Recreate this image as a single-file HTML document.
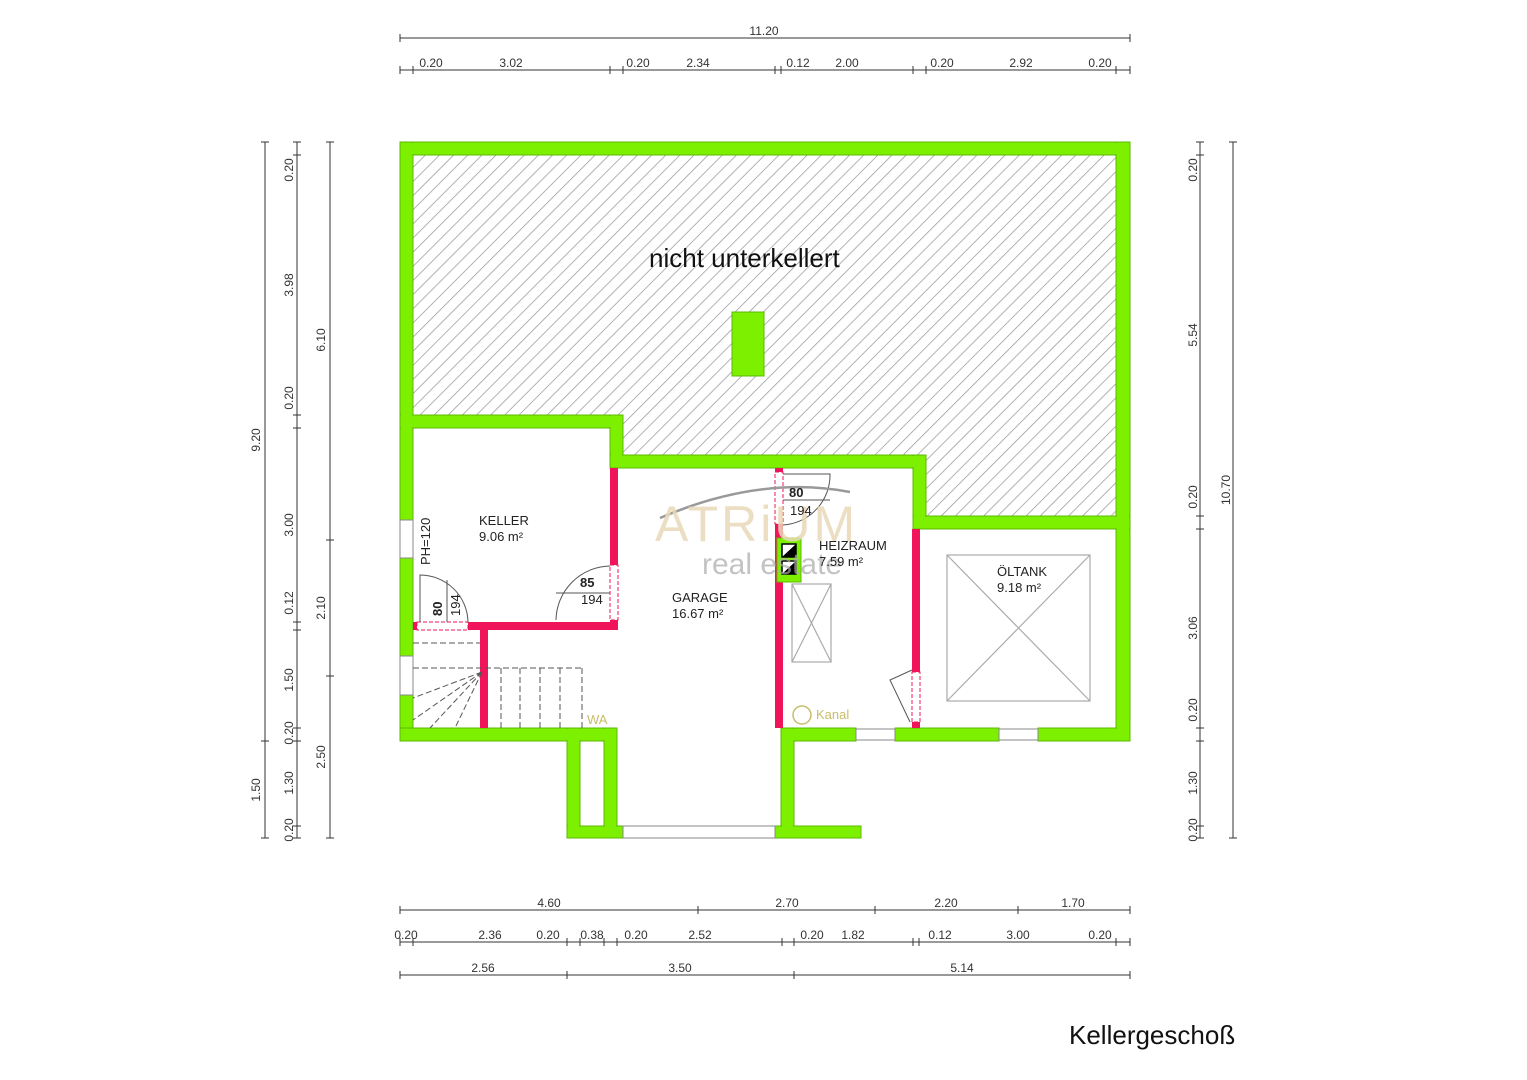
<!DOCTYPE html>
<html><head><meta charset="utf-8"><style>
html,body{margin:0;padding:0;background:#fff;}
svg{display:block;}
text{font-family:"Liberation Sans",sans-serif;}
</style></head><body>
<svg width="1527" height="1080" viewBox="0 0 1527 1080" xmlns="http://www.w3.org/2000/svg">
<defs>
<pattern id="h" patternUnits="userSpaceOnUse" width="10" height="10" patternTransform="rotate(45)">
<line x1="0" y1="0" x2="0" y2="10" stroke="#999" stroke-width="1.5"/>
</pattern>
</defs>
<rect width="1527" height="1080" fill="#fff"/>
<polygon points="413,155 1116,155 1116,516 926,516 926,455 623,455 623,415 413,415" fill="url(#h)"/>

<g fill="#7df000" stroke="#5cb800" stroke-width="1">
<rect x="400" y="142" width="730" height="13"/>
<rect x="400" y="142" width="13" height="378"/>
<rect x="400" y="558" width="13" height="98"/>
<rect x="400" y="695" width="13" height="46"/>
<rect x="1116" y="142" width="14" height="599"/>
<rect x="400" y="415" width="223" height="13"/>
<rect x="610" y="415" width="13" height="53"/>
<rect x="610" y="455" width="316" height="13"/>
<rect x="913" y="455" width="13" height="74"/>
<rect x="913" y="516" width="217" height="13"/>
<rect x="400" y="728" width="217" height="13"/>
<rect x="567" y="728" width="13" height="110"/>
<rect x="604" y="728" width="13" height="110"/>
<rect x="567" y="826" width="56" height="12"/>
<rect x="781" y="728" width="75" height="13"/>
<rect x="781" y="728" width="13" height="110"/>
<rect x="775" y="826" width="86" height="12"/>
<rect x="895" y="728" width="104" height="13"/>
<rect x="1038" y="728" width="92" height="13"/>
<rect x="732" y="312" width="32" height="64"/>
</g>
<g fill="#7df000">
<rect x="401" y="143" width="728" height="11"/>
<rect x="401" y="143" width="11" height="376"/>
<rect x="1117" y="143" width="12" height="597"/>
<rect x="401" y="416" width="221" height="11"/>
<rect x="611" y="416" width="11" height="51"/>
<rect x="611" y="456" width="314" height="11"/>
<rect x="914" y="456" width="11" height="72"/>
<rect x="914" y="517" width="215" height="11"/>
<rect x="401" y="729" width="215" height="11"/>
<rect x="568" y="729" width="11" height="108"/>
<rect x="605" y="729" width="11" height="108"/>
<rect x="782" y="729" width="11" height="108"/>
<rect x="782" y="729" width="73" height="11"/>
</g>
<g fill="#fff" stroke="#888" stroke-width="1">
<rect x="400" y="520" width="13" height="38"/>
<rect x="400" y="656" width="13" height="39"/>
<rect x="856" y="729" width="39" height="11"/>
<rect x="999" y="729" width="39" height="11"/>
<rect x="623" y="826" width="152" height="12"/>
</g>

<g fill="#f0145a">
<rect x="610" y="468" width="8" height="162"/>
<rect x="413" y="622" width="205" height="8"/>
<rect x="480" y="630" width="8" height="98"/>
<rect x="775" y="468" width="8" height="260"/>
<rect x="912" y="529" width="8" height="199"/>
</g>
<g fill="#fff" stroke="#f0145a" stroke-width="1" stroke-dasharray="4,2">
<rect x="417" y="622" width="51" height="8"/>
<rect x="610" y="565" width="8" height="55"/>
<rect x="775" y="472" width="8" height="52"/>
<rect x="912" y="672" width="8" height="50"/>
</g>

<g fill="none" stroke="#555" stroke-width="1">
<path d="M420,622 L420,575 A48,48 0 0 1 468,622"/>
<line x1="447" y1="580" x2="447" y2="622"/>
<path d="M556,620 A55,55 0 0 1 610,566"/>
<line x1="556" y1="593" x2="610" y2="593"/>
<path d="M783,474 L830,474 A50,50 0 0 1 783,525"/>
<line x1="783" y1="500" x2="830" y2="500"/>
<path d="M912,670 L890,680 L910,722"/>
</g>
<g fill="none" stroke="#555" stroke-width="1" stroke-dasharray="6,3">
<line x1="413" y1="643" x2="480" y2="643"/>
<line x1="413" y1="668" x2="583" y2="668"/>
<line x1="501" y1="668" x2="501" y2="728"/>
<line x1="520" y1="668" x2="520" y2="728"/>
<line x1="540" y1="668" x2="540" y2="728"/>
<line x1="560" y1="668" x2="560" y2="728"/>
<line x1="582" y1="668" x2="582" y2="728"/>
<line x1="482" y1="672" x2="413" y2="698"/>
<line x1="482" y1="672" x2="413" y2="720"/>
<line x1="482" y1="672" x2="430" y2="728"/>
<line x1="482" y1="672" x2="455" y2="728"/>
</g>
<rect x="777" y="538" width="24" height="44" fill="#7df000" stroke="#5cb800"/>
<rect x="782" y="544" width="14" height="13" fill="#fff" stroke="#000" stroke-width="1.5"/>
<polygon points="782,557 796,544 796,557" fill="#000"/>
<rect x="782" y="561" width="14" height="13" fill="#fff" stroke="#000" stroke-width="1.5"/>
<polygon points="782,574 796,561 796,574" fill="#000"/>
<g fill="none" stroke="#aaa" stroke-width="1.2">
<rect x="792" y="584" width="39" height="78"/>
<line x1="792" y1="584" x2="831" y2="662"/><line x1="831" y1="584" x2="792" y2="662"/>
<rect x="947" y="555" width="143" height="146"/>
<line x1="947" y1="555" x2="1090" y2="701"/><line x1="1090" y1="555" x2="947" y2="701"/>
</g>
<circle cx="802" cy="715" r="9" fill="none" stroke="#c8bd6a" stroke-width="1.5"/>
<text x="816" y="719" font-size="13" fill="#c8bd6a">Kanal</text>
<text x="587" y="724" font-size="13" fill="#c8bd6a">WA</text>

<path d="M660,518 Q760,475 850,492" fill="none" stroke="#999" stroke-width="2.5"/>
<text x="655" y="541" font-size="50" fill="#e9d9b8" font-family="Liberation Serif,serif" letter-spacing="3" opacity="0.85">ATRiUM</text>
<text x="702" y="574" font-size="30" fill="#aaa" opacity="0.7">real estate</text>

<g font-size="13" fill="#222">
<text x="479" y="525">KELLER</text><text x="479" y="541">9.06 m²</text>
<text x="672" y="602">GARAGE</text><text x="672" y="618">16.67 m²</text>
<text x="819" y="550">HEIZRAUM</text><text x="819" y="566">7.59 m²</text>
<text x="997" y="576">ÖLTANK</text><text x="997" y="592">9.18 m²</text>
<text x="580" y="587" font-weight="bold">85</text><text x="581" y="604">194</text>
<text x="789" y="497" font-weight="bold">80</text><text x="790" y="515">194</text>
<text transform="translate(442,616) rotate(-90)" font-weight="bold">80</text>
<text transform="translate(460,616) rotate(-90)">194</text>
<text transform="translate(430,565) rotate(-90)">PH=120</text>
</g>
<text x="649" y="267" font-size="26" fill="#111">nicht unterkellert</text>
<text x="1069" y="1044" font-size="26" fill="#111">Kellergeschoß</text>

<g stroke="#333" stroke-width="1" fill="none">
<line x1="400" y1="38" x2="1130" y2="38"/>
<line x1="400" y1="70" x2="1130" y2="70"/>
<line x1="400" y1="910" x2="1130" y2="910"/>
<line x1="400" y1="942" x2="1130" y2="942"/>
<line x1="400" y1="975" x2="1130" y2="975"/>
<line x1="265" y1="142" x2="265" y2="838"/>
<line x1="297" y1="142" x2="297" y2="838"/>
<line x1="330" y1="142" x2="330" y2="838"/>
<line x1="1200" y1="142" x2="1200" y2="838"/>
<line x1="1233" y1="142" x2="1233" y2="838"/>
</g>
<g stroke="#333" stroke-width="1">
<path d="M400,34v8M1130,34v8"/>
<path d="M400,66v8M413,66v8M610,66v8M623,66v8M775,66v8M781,66v8M913,66v8M926,66v8M1116,66v8M1130,66v8"/>
<path d="M400,906v8M698,906v8M875,906v8M1018,906v8M1130,906v8"/>
<path d="M400,938v8M413,938v8M567,938v8M580,938v8M604,938v8M617,938v8M782,938v8M794,938v8M913,938v8M919,938v8M1116,938v8M1130,938v8"/>
<path d="M400,971v8M567,971v8M794,971v8M1130,971v8"/>
<path d="M261,142h8M261,741h8M261,838h8"/>
<path d="M293,142h8M293,155h8M293,415h8M293,428h8M293,622h8M293,630h8M293,728h8M293,741h8M293,826h8M293,838h8"/>
<path d="M326,142h8M326,540h8M326,676h8M326,838h8"/>
<path d="M1196,142h8M1196,155h8M1196,516h8M1196,529h8M1196,728h8M1196,741h8M1196,826h8M1196,838h8"/>
<path d="M1229,142h8M1229,838h8"/>
</g>
<g font-size="12" fill="#333" text-anchor="middle">
<text x="764" y="35">11.20</text>
<text x="431" y="67">0.20</text><text x="511" y="67">3.02</text><text x="638" y="67">0.20</text><text x="698" y="67">2.34</text>
<text x="798" y="67">0.12</text><text x="847" y="67">2.00</text><text x="942" y="67">0.20</text><text x="1021" y="67">2.92</text><text x="1100" y="67">0.20</text>
<text x="549" y="907">4.60</text><text x="787" y="907">2.70</text><text x="946" y="907">2.20</text><text x="1073" y="907">1.70</text>
<text x="406" y="939">0.20</text><text x="490" y="939">2.36</text><text x="548" y="939">0.20</text><text x="592" y="939">0.38</text>
<text x="636" y="939">0.20</text><text x="700" y="939">2.52</text><text x="812" y="939">0.20</text><text x="853" y="939">1.82</text>
<text x="940" y="939">0.12</text><text x="1018" y="939">3.00</text><text x="1100" y="939">0.20</text>
<text x="483" y="972">2.56</text><text x="680" y="972">3.50</text><text x="962" y="972">5.14</text>
</g>
<g font-size="12" fill="#333" text-anchor="middle">
<text transform="translate(260,440) rotate(-90)">9.20</text>
<text transform="translate(260,790) rotate(-90)">1.50</text>
<text transform="translate(293,170) rotate(-90)">0.20</text>
<text transform="translate(293,285) rotate(-90)">3.98</text>
<text transform="translate(293,398) rotate(-90)">0.20</text>
<text transform="translate(293,525) rotate(-90)">3.00</text>
<text transform="translate(293,603) rotate(-90)">0.12</text>
<text transform="translate(293,680) rotate(-90)">1.50</text>
<text transform="translate(293,733) rotate(-90)">0.20</text>
<text transform="translate(293,783) rotate(-90)">1.30</text>
<text transform="translate(293,830) rotate(-90)">0.20</text>
<text transform="translate(325,340) rotate(-90)">6.10</text>
<text transform="translate(325,608) rotate(-90)">2.10</text>
<text transform="translate(325,757) rotate(-90)">2.50</text>
<text transform="translate(1197,170) rotate(-90)">0.20</text>
<text transform="translate(1197,335) rotate(-90)">5.54</text>
<text transform="translate(1197,497) rotate(-90)">0.20</text>
<text transform="translate(1197,628) rotate(-90)">3.06</text>
<text transform="translate(1197,710) rotate(-90)">0.20</text>
<text transform="translate(1197,783) rotate(-90)">1.30</text>
<text transform="translate(1197,830) rotate(-90)">0.20</text>
<text transform="translate(1230,490) rotate(-90)">10.70</text>
</g>
</svg>
</body></html>
